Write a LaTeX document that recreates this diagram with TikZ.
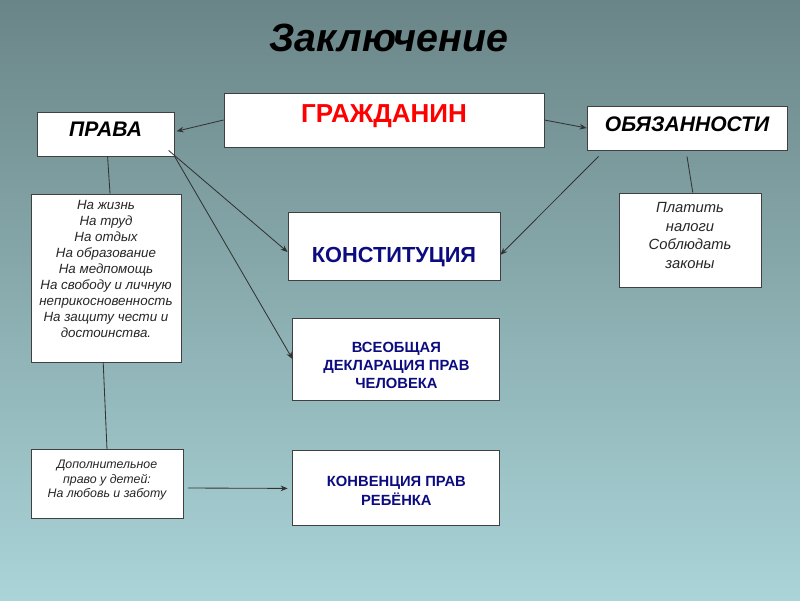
\documentclass[tikz,border=0pt]{standalone}
\usepackage{fontspec}
\setmainfont{Liberation Sans}
\usetikzlibrary{arrows.meta}
\definecolor{bgtop}{RGB}{106,133,135}
\definecolor{bgbottom}{RGB}{170,212,216}
\definecolor{navy}{RGB}{12,12,128}
% lines of a box, moved up or down inside it
\newcommand{\liftlines}[2]{\raisebox{#1}[\height][\depth]{\begin{tabular}{@{}c@{}}#2\end{tabular}}}

\begin{document}
\begin{tikzpicture}[
  box/.style={draw=black!75, fill=white, line width=0.6pt, inner sep=2pt},
  head/.style={box, font=\fontsize{15}{18}\selectfont\bfseries\itshape},
  item/.style={box, text=black!85,
               font=\fontsize{9.5}{11.4}\selectfont\itshape},
  doc/.style={box, text=navy,
              font=\fontsize{10.5}{13}\selectfont\bfseries},
  arr/.style={-{Stealth[length=5pt,width=4pt]}, draw=black!80, line width=0.6pt},
  lnk/.style={draw=black!80, line width=0.6pt}
]

% Background
\shade[top color=bgtop, bottom color=bgbottom] (0,0) rectangle (20,-15);

% Title
\node[font=\fontsize{28}{31}\selectfont\bfseries\itshape] (title)
  at (9.725,-0.95) {Заключение};

% Citizen
\node[box, minimum width=8cm, minimum height=1.35cm, text=red,
      font=\fontsize{18.5}{22}\selectfont\bfseries,
      text height=0.47cm, text depth=0.35cm] (cit) at (9.6,-3.0) {ГРАЖДАНИН};

% Rights and duties
\node[head, minimum width=3.43cm, minimum height=1.1cm,
      text height=0.38cm, text depth=0.25cm] (rights) at (2.64,-3.35) {ПРАВА};
\node[head, minimum width=5cm, minimum height=1.1cm,
      text height=0.39cm, text depth=0.22cm] (duties) at (17.175,-3.2) {ОБЯЗАННОСТИ};

% Lists
\node[item, minimum width=3.75cm, minimum height=4.2cm] (rlist) at (2.65,-6.95)
  {\liftlines{0.2cm}{На жизнь\\На труд\\На отдых\\На образование\\На медпомощь\\На свободу и личную\\неприкосновенность\\На защиту чести и\\достоинства.}};
\node[item, font=\fontsize{10.5}{13.2}\selectfont\itshape,
      minimum width=3.55cm, minimum height=2.35cm] (dlist) at (17.25,-6.0)
  {\liftlines{0.08cm}{Платить\\налоги\\Соблюдать\\законы}};
\node[item, font=\fontsize{8.8}{10.3}\selectfont\itshape,
      minimum width=3.8cm, minimum height=1.725cm] (extra) at (2.675,-12.11)
  {\liftlines{0.1cm}{Дополнительное\\право у детей:\\На любовь и заботу}};

% Documents
\node[doc, font=\fontsize{15.5}{18}\selectfont\bfseries, minimum width=5.3cm,
      minimum height=1.7cm, text height=0.81cm, text depth=0cm] (const)
  at (9.85,-6.15) {КОНСТИТУЦИЯ};
\node[doc, minimum width=5.175cm, minimum height=2.05cm] (udhr) at (9.91,-8.975)
  {\liftlines{-0.2cm}{ВСЕОБЩАЯ\\ДЕКЛАРАЦИЯ ПРАВ\\ЧЕЛОВЕКА}};
\node[doc, minimum width=5.175cm, minimum height=1.875cm] (crc) at (9.91,-12.19)
  {\liftlines{-0.12cm}{КОНВЕНЦИЯ ПРАВ\\РЕБЁНКА}};

% Connectors
\draw[arr] (cit.west) -- ([xshift=0.05cm,yshift=0.07cm]rights.east);
\draw[arr] (cit.east) -- (duties.west);
\draw[arr] ([xshift=-0.15cm,yshift=0.15cm]rights.south east) -- ([yshift=-0.15cm]const.west);
\draw[arr] (rights.south east) -- (udhr.west);
\draw[arr] ([xshift=0.3cm,yshift=-0.15cm]duties.south west) -- ([yshift=-0.22cm]const.east);
\draw[arr] ([xshift=0.12cm,yshift=-0.09cm]extra.east) -- ([xshift=-0.12cm,yshift=-0.02cm]crc.west);
\draw[lnk] ([xshift=0.05cm]rights.south) -- ([xshift=0.1cm]rlist.north);
\draw[lnk] ([xshift=-0.07cm]rlist.south) -- (extra.north);
\draw[lnk] ([yshift=-0.15cm]duties.south) -- ([xshift=0.07cm]dlist.north);

\end{tikzpicture}
\end{document}
